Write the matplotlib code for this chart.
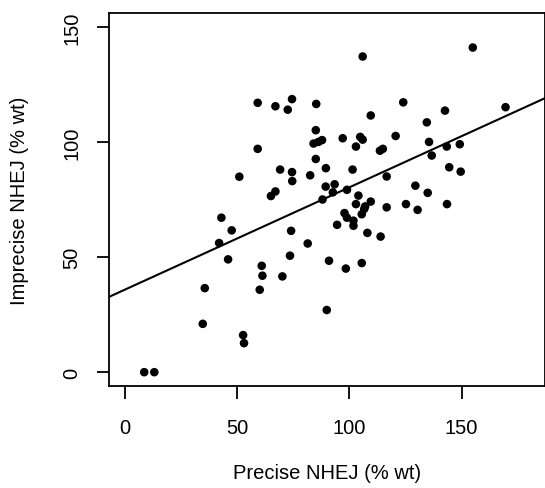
import matplotlib
matplotlib.use("Agg")
import matplotlib.pyplot as plt
import numpy as np

plt.rcParams['font.family'] = ['Liberation Sans', 'DejaVu Sans']

precise = [8.5, 13, 34.6, 35.5, 41.9, 42.9, 45.9, 47.5, 52.6, 53, 50.9, 59.1, 59.1, 60, 60.9,
           61.2, 65, 67, 67, 69.1, 70.1, 72.5, 73.5, 74, 74.4, 74.4, 74.5, 81.4, 82.5, 85.2,
           85, 84, 86.2, 87.8, 85, 89.5, 89.4, 88, 89.9, 90.9, 92.6, 93.4, 94.5, 97, 97.8,
           98.9, 98.4, 98.9, 101.4, 101.8, 101.8, 102.9, 102.9, 104, 104.8, 105.9, 105.9,
           105.5, 106.6, 105.5, 107, 108, 109.5, 109.5, 113.6, 114.9, 113.9, 116.6, 116.6,
           120.6, 124, 125.2, 129.4, 130.4, 134.5, 135.5, 134.9, 136.7, 142.6, 143.4, 143.5,
           144.5, 149.2, 149.6, 155, 169.6]
imprecise = [0, 0, 21, 36.5, 56.1, 67.1, 49, 61.6, 16.1, 12.6, 84.9, 117, 97, 35.8, 46.2,
             41.9, 76.5, 78.5, 115.5, 88, 41.6, 114, 50.6, 61.4, 118.6, 86.9, 83, 55.9, 85.5, 116.5,
             105.1, 99.3, 100, 100.8, 92.6, 88.6, 80.6, 75, 27, 48.4, 78.1, 81.6, 64, 101.6, 69.1,
             79.2, 45, 67.1, 88, 65.8, 63.6, 98, 73, 76.7, 102.2, 101,
             137.1, 68.6, 70.9, 47.4, 72, 60.5, 111.5, 74.1, 96.2, 97, 58.9, 85, 71.6,
             102.6, 117.2, 73, 81, 70.5, 108.5, 100, 77.9, 94.1, 113.6, 98, 73,
             89, 99, 87.1, 141, 115.1]

fit_intercept = 35.9
fit_slope = 0.444

x_ticks = [0, 50, 100, 150]
y_ticks = [0, 50, 100, 150]

fig = plt.figure(figsize=(5.45, 4.89), dpi=100)
ax = fig.add_axes([109/545, 1-387/489, 436/545, 373/489])

ax.scatter(precise, imprecise, s=38, c='black', edgecolors='none', zorder=3)
ax.axline((0, fit_intercept), slope=fit_slope, color='black', lw=1.5, zorder=2)

ax.set_xlim(-7.2, 187.2)
ax.set_ylim(-6, 156)
ax.set_xticks(x_ticks)
ax.set_yticks(y_ticks)
ax.set_yticklabels([str(v) for v in y_ticks], rotation=90, va='center')
ax.tick_params(direction='out', length=9, width=1.3, labelsize=14.5, pad=11)
ax.tick_params(axis='x', pad=14)
for s in ax.spines.values():
    s.set_linewidth(1.3)

ax.set_xlabel('Precise NHEJ (% wt)', fontsize=14.5, labelpad=19)
ax.set_ylabel('Imprecise NHEJ (% wt)', fontsize=14.5, labelpad=24)

fig.savefig('out.png', dpi=100)
